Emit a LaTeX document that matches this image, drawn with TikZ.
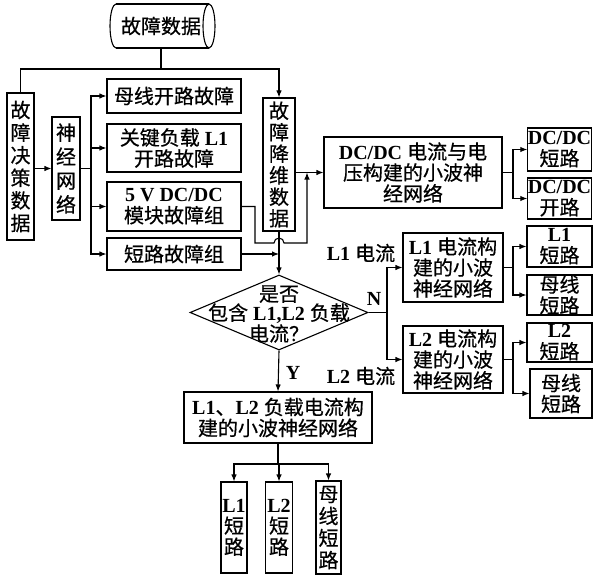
\documentclass[tikz,border=0pt]{standalone}
\usepackage{fontspec}
\setmainfont{Liberation Serif}
\newfontfamily\cjk{Noto Sans CJK SC}[FakeBold=0.6]
\usetikzlibrary{arrows.meta,shapes.geometric}
\newcommand\zh[1]{{\cjk\mdseries #1}}
\tikzset{
  box/.style={draw, line width=1.1pt, inner sep=0pt, align=center,
    font=\fontsize{20}{21}\selectfont\bfseries},
  lab/.style={inner sep=0pt, align=center, font=\fontsize{20}{21}\selectfont\bfseries},
  con/.style={line width=1.1pt},
  arr/.style={con, -{Latex[length=7pt,width=5.5pt]}}
}
\begin{document}
\begin{tikzpicture}[x=1pt,y=-1pt]
\useasboundingbox (0,0) rectangle (593,575);
% cylinder
\node[inner sep=0, minimum width=104, minimum height=44, font=\fontsize{20}{21}\selectfont] (cyl) at (161,26) {\zh{故障数据}};
\draw[con] (116,4) -- (209,4) (116,48) -- (209,48);
\draw[con] (209,26) ellipse [x radius=6, y radius=22];
\draw[con] (116,4) arc[start angle=270, end angle=90, x radius=6, y radius=22];
% left column
\node[box, minimum width=27, minimum height=147, font=\fontsize{20}{22.6}\selectfont] (jc) at (20.5,166.5) {\zh{故}\\\zh{障}\\\zh{决}\\\zh{策}\\\zh{数}\\\zh{据}};
\node[box, minimum width=28, minimum height=103, font=\fontsize{20}{24}\selectfont] (nn) at (66,168.5) {\zh{神}\\\zh{经}\\\zh{网}\\\zh{络}};
\node[box, minimum width=134, minimum height=34] (b1) at (174,96) {\zh{母线开路故障}};
\node[box, minimum width=134, minimum height=48] (b2) at (174,148) {\zh{关键负载} L1\\\zh{开路故障}};
\node[box, minimum width=134, minimum height=49] (b3) at (174,206.5) {5 V DC/DC\\\zh{模块故障组}};
\node[box, minimum width=134, minimum height=32] (b4) at (174,254) {\zh{短路故障组}};
\node[box, minimum width=32, minimum height=133, font=\fontsize{20}{21.5}\selectfont] (jw) at (279,164.5) {\zh{故}\\\zh{障}\\\zh{降}\\\zh{维}\\\zh{数}\\\zh{据}};
% DC/DC
\node[box, minimum width=178, minimum height=71] (dc) at (413,172.5) {DC/DC \zh{电流与电}\\\zh{压构建的小波神}\\\zh{经网络}};
\node[box, minimum width=63, minimum height=43] (dcs) at (559.5,149.5) {DC/DC\\\zh{短路}};
\node[box, minimum width=63, minimum height=41] (dco) at (559.5,198.5) {DC/DC\\\zh{开路}};
% diamond
\node[diamond, draw, line width=1.1pt, inner sep=0pt, minimum width=178, minimum height=75] (dia) at (279,312.5) {};
\node[lab, font=\fontsize{20}{19}\selectfont\bfseries] (diat) at (279,314) {\zh{是否}\\\zh{包含} L1,L2 \zh{负载}\\\zh{电流？}};
% L1 / L2 boxes
\node[box, minimum width=100, minimum height=69] (l1b) at (453,267.5) {L1 \zh{电流构}\\\zh{建的小波}\\\zh{神经网络}};
\node[box, minimum width=100, minimum height=67] (l2b) at (453,359.5) {L2 \zh{电流构}\\\zh{建的小波}\\\zh{神经网络}};
\node[box, minimum width=65, minimum height=41] (l1s) at (559.5,246.5) {L1\\\zh{短路}};
\node[box, minimum width=65, minimum height=40] (l1m) at (559.5,295) {\zh{母线}\\\zh{短路}};
\node[box, minimum width=65, minimum height=39] (l2s) at (559.5,342.5) {L2\\\zh{短路}};
\node[box, minimum width=62, minimum height=49] (l2m) at (561,393.5) {\zh{母线}\\\zh{短路}};
% bottom
\node[box, minimum width=188, minimum height=51] (bot) at (278,417.5) {L1\zh{、}L2 \zh{负载电流构}\\\zh{建的小波神经网络}};
\node[box, minimum width=26, minimum height=91] (b5) at (234,527.5) {L1\\\zh{短}\\\zh{路}};
\node[box, minimum width=27, minimum height=91] (b6) at (279,527.5) {L2\\\zh{短}\\\zh{路}};
\node[box, minimum width=25, minimum height=93, font=\fontsize{20}{22}\selectfont] (b7) at (328.5,527.5) {\zh{母}\\\zh{线}\\\zh{短}\\\zh{路}};
% labels
\node[lab] (ln) at (374,299) {N};
\node[lab] (ly) at (293,373) {Y};
\node[lab] (ll1) at (361,253) {L1 \zh{电流}};
\node[lab] (ll2) at (361,376) {L2 \zh{电流}};
% connectors
\coordinate (top) at (161,69);
\draw[con] (cyl.south) -- (top);
\draw[con] (top) -| (jc.north);
\draw[arr] (top) -| (jw.north);
\draw[arr] (jc.east |- nn.west) -- (nn.west);
\coordinate (sp1) at (91,168.5);
\draw[con] (nn.east) -- (sp1);
\draw[arr] (sp1) |- (b1.west);
\draw[arr] (sp1) |- (b2.west);
\draw[arr] (sp1) |- (b3.west);
\draw[arr] (sp1) |- (b4.west);
\coordinate (h1) at (255,243);
\coordinate (hm) at (307,243);
\draw[arr] (b3.east) -- (b3.east -| h1) -- (h1) -- (274,243) arc[start angle=180, end angle=360, radius=5] -- (hm) -- (hm |- dc.west);
\draw[arr] (jw.east |- dc.west) -- (dc.west);
\draw[arr] (jw.south) -- (dia.north);
\draw[arr] (b4.east) -- (b4.east -| jw.south);
\coordinate (sp2) at (387,312.5);
\draw[con] (dia.east) -- (sp2);
\draw[arr] (sp2) |- (l1b.west);
\draw[arr] (sp2) |- (l2b.west);
\coordinate (sp3) at (513,172.5);
\draw[con] (dc.east) -- (sp3);
\draw[arr] (sp3) |- (dcs.west);
\draw[arr] (sp3) |- (dco.west);
\coordinate (sp5) at (513,267.5);
\draw[con] (l1b.east) -- (sp5);
\draw[arr] (sp5) |- (l1s.west);
\draw[arr] (sp5) |- (l1m.west);
\coordinate (sp6) at (513,359.5);
\draw[con] (l2b.east) -- (sp6);
\draw[arr] (sp6) |- (l2s.west);
\draw[arr] (sp6) |- (l2m.west);
\draw[arr] (dia.south) -- (bot.north);
\coordinate (sp4) at (278,464);
\draw[con] (bot.south) -- (sp4);
\draw[arr] (sp4) -| (b5.north);
\draw[arr] (sp4) -- (sp4 -| b6.north) -- (b6.north);
\draw[arr] (sp4) -| (b7.north);
\end{tikzpicture}
\end{document}
